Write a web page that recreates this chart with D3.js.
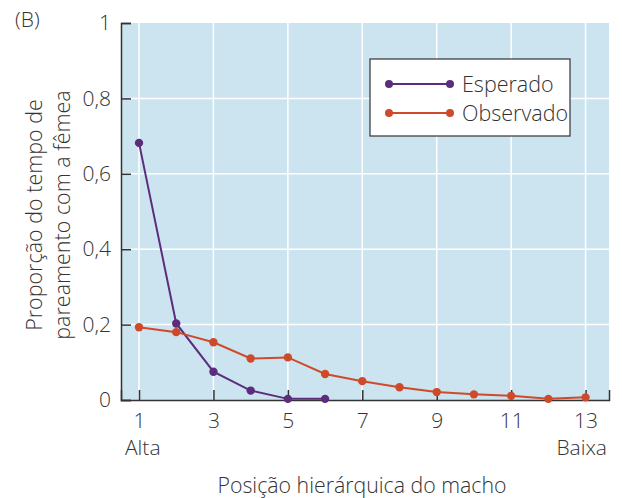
<!DOCTYPE html>
<html>
<head>
<meta charset="utf-8">
<script src="https://cdn.jsdelivr.net/npm/d3@7"></script>
<style>
  body { margin: 0; background: #fff; }
  svg text { font-family: "Open Sans", Lato, sans-serif; font-weight: 300; fill: #333; }
</style>
</head>
<body>
<svg></svg>
<script>
// data
var positions = [1, 2, 3, 4, 5, 6, 7, 8, 9, 10, 11, 12, 13];
var esperado = [0.682, 0.203, 0.075, 0.025, 0.003, 0.003];
var observado = [0.193, 0.180, 0.153, 0.110, 0.113, 0.069, 0.050, 0.034, 0.021, 0.015, 0.011, 0.003, 0.007];
var xTicks = [1, 3, 5, 7, 9, 11, 13];
var yTicks = [0, 0.2, 0.4, 0.6, 0.8, 1];
var seriesNames = ["Esperado", "Observado"];
var colors = ["#5c2d7c", "#cf4a2b"];

var width = 622, height = 498;
var margin = { top: 23, right: 13, bottom: 98, left: 121 };

var svg = d3.select("svg")
  .attr("width", width)
  .attr("height", height);

var x = d3.scaleLinear()
  .domain([0.516, 13.63])
  .range([margin.left, width - margin.right]);

var y = d3.scaleLinear()
  .domain([0, 1])
  .range([height - margin.bottom, margin.top]);

// plot background
svg.append("rect")
  .attr("x", x.range()[0])
  .attr("y", y(1))
  .attr("width", x.range()[1] - x.range()[0])
  .attr("height", y(0) - y(1))
  .attr("fill", "#cce4ef");

// white grid
svg.append("g").selectAll("line")
  .data(xTicks)
  .enter().append("line")
  .attr("x1", d => x(d)).attr("x2", d => x(d))
  .attr("y1", y(0)).attr("y2", y(1))
  .attr("stroke", "#fff").attr("stroke-width", 1.5);

svg.append("g").selectAll("line")
  .data(yTicks.slice(1, -1))
  .enter().append("line")
  .attr("x1", x.range()[0]).attr("x2", x.range()[1])
  .attr("y1", d => y(d)).attr("y2", d => y(d))
  .attr("stroke", "#fff").attr("stroke-width", 1.5);

// axes, ticks pointing inward
var xAxis = svg.append("g")
  .attr("transform", "translate(0," + y(0) + ")")
  .call(d3.axisBottom(x).tickValues(xTicks).tickSizeInner(-10).tickSizeOuter(-10).tickPadding(13));

var yAxis = svg.append("g")
  .attr("transform", "translate(" + x.range()[0] + ",0)")
  .call(d3.axisLeft(y).tickValues(yTicks).tickSizeInner(-10).tickSizeOuter(-10).tickPadding(10)
    .tickFormat(d => d === 0 || d === 1 ? d3.format("d")(d) : d3.format(".1f")(d).replace(".", ",")));

[xAxis, yAxis].forEach(function (g) {
  g.selectAll("path, line").attr("stroke", "#333").attr("stroke-width", 1.5);
  g.selectAll("text").style("font-size", "21px").attr("fill", "#333");
});

// series
var lineGen = d3.line()
  .x((d, i) => x(positions[i]))
  .y(d => y(d));

[esperado, observado].forEach(function (vals, k) {
  svg.append("path")
    .datum(vals)
    .attr("d", lineGen)
    .attr("fill", "none")
    .attr("stroke", colors[k])
    .attr("stroke-width", 2);
  svg.append("g").selectAll("circle")
    .data(vals)
    .enter().append("circle")
    .attr("cx", (d, i) => x(positions[i]))
    .attr("cy", d => y(d))
    .attr("r", 4.2)
    .attr("fill", colors[k]);
});

// legend
var legend = svg.append("g").attr("transform", "translate(370,59)");
legend.append("rect")
  .attr("width", 200).attr("height", 77)
  .attr("fill", "#fff").attr("stroke", "#333").attr("stroke-width", 1.2);

seriesNames.forEach(function (name, k) {
  var ly = 25 + k * 29;
  legend.append("line")
    .attr("x1", 19).attr("x2", 80)
    .attr("y1", ly).attr("y2", ly)
    .attr("stroke", colors[k]).attr("stroke-width", 2);
  legend.selectAll(null).data([19, 80]).enter().append("circle")
    .attr("cx", d => d).attr("cy", ly).attr("r", 4)
    .attr("fill", colors[k]);
  legend.append("text")
    .attr("x", 92).attr("y", ly)
    .attr("dy", "0.35em")
    .style("font-size", "21.5px")
    .text(name);
});

// labels
svg.append("text")
  .attr("x", 125).attr("y", 448)
  .attr("dy", "0.35em")
  .style("font-size", "21px")
  .text("Alta");

svg.append("text")
  .attr("x", 607).attr("y", 448)
  .attr("dy", "0.35em")
  .attr("text-anchor", "end")
  .style("font-size", "21px")
  .text("Baixa");

svg.append("text")
  .attr("x", 362).attr("y", 486)
  .attr("dy", "0.35em")
  .attr("text-anchor", "middle")
  .style("font-size", "21.3px")
  .text("Posição hierárquica do macho");

var yl = svg.append("text")
  .attr("transform", "translate(42,215) rotate(-90)")
  .attr("text-anchor", "middle")
  .style("font-size", "21.5px");
yl.append("tspan").attr("x", 0).attr("dy", 0).text("Proporção do tempo de");
yl.append("tspan").attr("x", 0).attr("dy", 28).text("pareamento com a fêmea");

svg.append("text")
  .attr("x", 15).attr("y", 20)
  .attr("dy", "0.35em")
  .style("font-size", "21px")
  .text("(B)");
</script>
</body>
</html>
